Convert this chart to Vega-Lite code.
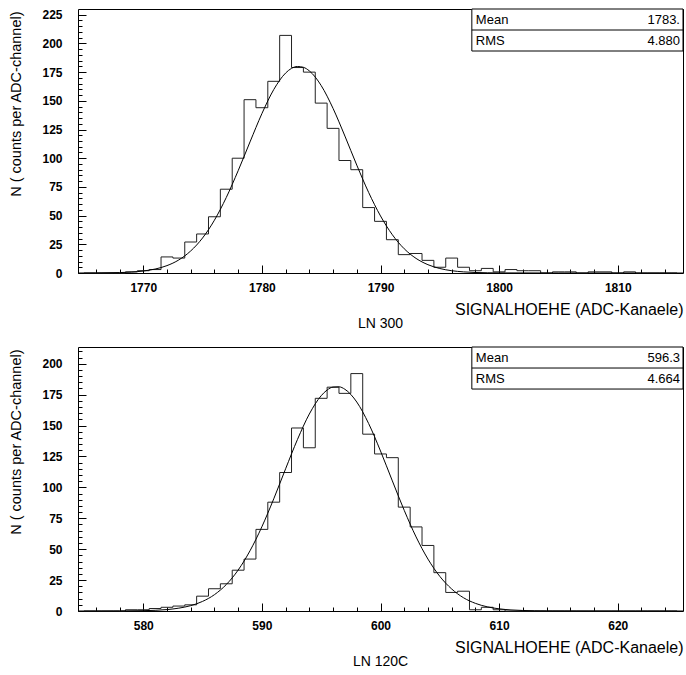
{
  "$schema": "https://vega.github.io/schema/vega-lite/v6.json",
  "background": "white",
  "padding": {"left": 8, "top": 8, "right": 2, "bottom": 0},
  "spacing": 12,
  "config": {
    "font": "Liberation Sans",
    "view": {"stroke": "black", "strokeWidth": 1},
    "axis": {
      "domain": false,
      "grid": false,
      "ticks": true,
      "tickColor": "black",
      "tickWidth": 1,
      "labelColor": "black",
      "titleColor": "black",
      "labelFont": "Liberation Sans",
      "titleFont": "Liberation Sans",
      "labelFontSize": 12,
      "labelFontWeight": "bold",
      "titleFontWeight": "normal",
      "labelOverlap": false,
      "labelFlush": false,
      "labelBound": false
    },
    "axisX": {"titleFontSize": 16, "titlePadding": 4, "labelPadding": 17},
    "axisY": {"titleFontSize": 14.5, "titlePadding": 18, "labelPadding": 24, "titleY": 2},
    "text": {"font": "Liberation Sans", "color": "black"},
    "title": {"color": "black", "font": "Liberation Sans"}
  },
  "datasets": {
    "hist300": [
      {"adc": 1765, "n": 0}, {"adc": 1766, "n": 0}, {"adc": 1767, "n": 0}, {"adc": 1768, "n": 0},
      {"adc": 1769, "n": 1}, {"adc": 1770, "n": 2}, {"adc": 1771, "n": 3}, {"adc": 1772, "n": 14},
      {"adc": 1773, "n": 13}, {"adc": 1774, "n": 27}, {"adc": 1775, "n": 34}, {"adc": 1776, "n": 49},
      {"adc": 1777, "n": 73}, {"adc": 1778, "n": 100}, {"adc": 1779, "n": 151}, {"adc": 1780, "n": 144},
      {"adc": 1781, "n": 167}, {"adc": 1782, "n": 207}, {"adc": 1783, "n": 179}, {"adc": 1784, "n": 175},
      {"adc": 1785, "n": 148}, {"adc": 1786, "n": 126}, {"adc": 1787, "n": 98}, {"adc": 1788, "n": 90},
      {"adc": 1789, "n": 57}, {"adc": 1790, "n": 45}, {"adc": 1791, "n": 29}, {"adc": 1792, "n": 16},
      {"adc": 1793, "n": 17}, {"adc": 1794, "n": 11}, {"adc": 1795, "n": 5}, {"adc": 1796, "n": 13},
      {"adc": 1797, "n": 5}, {"adc": 1798, "n": 2}, {"adc": 1799, "n": 4}, {"adc": 1800, "n": 1},
      {"adc": 1801, "n": 3}, {"adc": 1802, "n": 2}, {"adc": 1803, "n": 2}, {"adc": 1804, "n": 0},
      {"adc": 1805, "n": 1}, {"adc": 1806, "n": 1}, {"adc": 1807, "n": 0}, {"adc": 1808, "n": 1},
      {"adc": 1809, "n": 1}, {"adc": 1810, "n": 0}, {"adc": 1811, "n": 1}, {"adc": 1812, "n": 0},
      {"adc": 1813, "n": 0}, {"adc": 1814, "n": 0}, {"adc": 1815, "n": 0}
    ],
    "fit300": [
      {"adc": 1764.5, "n": 0}, {"adc": 1766, "n": 0.07}, {"adc": 1768, "n": 0.38}, {"adc": 1770, "n": 1.74},
      {"adc": 1771, "n": 3.44}, {"adc": 1772, "n": 6.43}, {"adc": 1773, "n": 11.4}, {"adc": 1774, "n": 19.2},
      {"adc": 1775, "n": 30.5}, {"adc": 1776, "n": 46.0}, {"adc": 1777, "n": 65.8}, {"adc": 1778, "n": 89.1},
      {"adc": 1779, "n": 114.2}, {"adc": 1780, "n": 138.8}, {"adc": 1781, "n": 159.8}, {"adc": 1782, "n": 174.2},
      {"adc": 1782.5, "n": 178.3}, {"adc": 1783, "n": 179.9}, {"adc": 1783.5, "n": 179.2}, {"adc": 1784, "n": 176.1},
      {"adc": 1785, "n": 163.3}, {"adc": 1786, "n": 143.4}, {"adc": 1787, "n": 119.3}, {"adc": 1788, "n": 94.0},
      {"adc": 1789, "n": 70.2}, {"adc": 1790, "n": 49.7}, {"adc": 1791, "n": 33.3}, {"adc": 1792, "n": 21.1},
      {"adc": 1793, "n": 12.7}, {"adc": 1794, "n": 7.24}, {"adc": 1795, "n": 3.91}, {"adc": 1796, "n": 2.0},
      {"adc": 1797, "n": 0.97}, {"adc": 1798, "n": 0.44}, {"adc": 1800, "n": 0.08}, {"adc": 1805, "n": 0},
      {"adc": 1815.5, "n": 0}
    ],
    "stats300": [
      {"stat": "Mean", "value": "1783."},
      {"stat": "RMS", "value": "4.880"}
    ],
    "hist120": [
      {"adc": 575, "n": 0}, {"adc": 576, "n": 0}, {"adc": 577, "n": 0}, {"adc": 578, "n": 0},
      {"adc": 579, "n": 1}, {"adc": 580, "n": 1}, {"adc": 581, "n": 2}, {"adc": 582, "n": 3},
      {"adc": 583, "n": 4}, {"adc": 584, "n": 5}, {"adc": 585, "n": 12}, {"adc": 586, "n": 18},
      {"adc": 587, "n": 22}, {"adc": 588, "n": 33}, {"adc": 589, "n": 42}, {"adc": 590, "n": 66},
      {"adc": 591, "n": 88}, {"adc": 592, "n": 112}, {"adc": 593, "n": 148}, {"adc": 594, "n": 132},
      {"adc": 595, "n": 172}, {"adc": 596, "n": 181}, {"adc": 597, "n": 176}, {"adc": 598, "n": 192},
      {"adc": 599, "n": 143}, {"adc": 600, "n": 127}, {"adc": 601, "n": 124}, {"adc": 602, "n": 84},
      {"adc": 603, "n": 68}, {"adc": 604, "n": 53}, {"adc": 605, "n": 31}, {"adc": 606, "n": 15},
      {"adc": 607, "n": 16}, {"adc": 608, "n": 1}, {"adc": 609, "n": 3}, {"adc": 610, "n": 1},
      {"adc": 611, "n": 0}, {"adc": 612, "n": 0}, {"adc": 613, "n": 0}, {"adc": 614, "n": 0},
      {"adc": 615, "n": 0}, {"adc": 616, "n": 0}, {"adc": 617, "n": 0}, {"adc": 618, "n": 0},
      {"adc": 619, "n": 0}, {"adc": 620, "n": 0}, {"adc": 621, "n": 0}, {"adc": 622, "n": 0},
      {"adc": 623, "n": 0}, {"adc": 624, "n": 0}, {"adc": 625, "n": 0}
    ],
    "fit120": [
      {"adc": 574.5, "n": 0}, {"adc": 576, "n": 0.01}, {"adc": 578, "n": 0.05}, {"adc": 580, "n": 0.26},
      {"adc": 581, "n": 0.56}, {"adc": 582, "n": 1.16}, {"adc": 583, "n": 2.3}, {"adc": 584, "n": 4.33},
      {"adc": 585, "n": 7.76}, {"adc": 586, "n": 13.2}, {"adc": 587, "n": 21.4}, {"adc": 588, "n": 33.1},
      {"adc": 589, "n": 48.7}, {"adc": 590, "n": 68.1}, {"adc": 591, "n": 90.7}, {"adc": 592, "n": 115.0},
      {"adc": 593, "n": 138.7}, {"adc": 594, "n": 159.3}, {"adc": 595, "n": 174.1}, {"adc": 595.5, "n": 178.7},
      {"adc": 596, "n": 181.1}, {"adc": 596.5, "n": 181.3}, {"adc": 597, "n": 179.3}, {"adc": 598, "n": 169.0},
      {"adc": 599, "n": 151.6}, {"adc": 600, "n": 129.4}, {"adc": 601, "n": 105.2}, {"adc": 602, "n": 81.4},
      {"adc": 603, "n": 59.9}, {"adc": 604, "n": 42.0}, {"adc": 605, "n": 28.0}, {"adc": 606, "n": 17.8},
      {"adc": 607, "n": 10.7}, {"adc": 608, "n": 6.18}, {"adc": 609, "n": 3.38}, {"adc": 610, "n": 1.76},
      {"adc": 611, "n": 0.87}, {"adc": 612, "n": 0.41}, {"adc": 614, "n": 0.08}, {"adc": 618, "n": 0},
      {"adc": 625.5, "n": 0}
    ],
    "stats120": [
      {"stat": "Mean", "value": "596.3"},
      {"stat": "RMS", "value": "4.664"}
    ]
  },
  "vconcat": [
    {
      "width": 605,
      "height": 264,
      "title": {"text": "LN 300", "orient": "bottom", "anchor": "middle", "frame": "group", "fontSize": 14, "fontWeight": "normal", "offset": 0},
      "layer": [
        {
          "encoding": {
            "x": {
              "field": "adc", "type": "quantitative",
              "scale": {"domain": [1764.5, 1815.5], "nice": false, "zero": false},
              "axis": {
                "title": "SIGNALHOEHE (ADC-Kanaele)", "titleAnchor": "end",
                "values": [1766, 1768, 1770, 1772, 1774, 1776, 1778, 1780, 1782, 1784, 1786, 1788, 1790, 1792, 1794, 1796, 1798, 1800, 1802, 1804, 1806, 1808, 1810, 1812, 1814],
                "format": "d", "labelOverlap": false,
                "labelExpr": "datum.value % 10 === 0 ? datum.label : ''",
                "tickSize": {"condition": {"test": "datum.value % 10 === 0", "value": -8}, "value": -4}
              }
            },
            "y": {
              "field": "n", "type": "quantitative",
              "scale": {"domain": [0, 230], "nice": false},
              "axis": {
                "title": "N ( counts per ADC-channel)", "titleAnchor": "end",
                "values": [0, 5, 10, 15, 20, 25, 30, 35, 40, 45, 50, 55, 60, 65, 70, 75, 80, 85, 90, 95, 100, 105, 110, 115, 120, 125, 130, 135, 140, 145, 150, 155, 160, 165, 170, 175, 180, 185, 190, 195, 200, 205, 210, 215, 220, 225],
                "format": "d", "labelOverlap": false,
                "labelExpr": "datum.value % 25 === 0 ? datum.label : ''",
                "tickSize": {"condition": {"test": "datum.value % 25 === 0", "value": -8}, "value": -4}
              }
            }
          },
          "layer": [
            {"data": {"name": "hist300"}, "mark": {"type": "line", "interpolate": "step", "color": "#222", "strokeWidth": 1}},
            {"data": {"name": "fit300"}, "mark": {"type": "line", "interpolate": "monotone", "color": "black", "strokeWidth": 1}}
          ]
        },
        {
          "data": {"name": "stats300"},
          "transform": [{"filter": "datum.stat === 'Mean'"}],
          "encoding": {
            "x": {
              "datum": 1797.7, "type": "quantitative",
              "scale": {"domain": [1764.5, 1815.5], "nice": false, "zero": false},
              "axis": {
                "title": "SIGNALHOEHE (ADC-Kanaele)", "titleAnchor": "end",
                "values": [1766, 1768, 1770, 1772, 1774, 1776, 1778, 1780, 1782, 1784, 1786, 1788, 1790, 1792, 1794, 1796, 1798, 1800, 1802, 1804, 1806, 1808, 1810, 1812, 1814],
                "format": "d", "labelOverlap": false,
                "labelExpr": "datum.value % 10 === 0 ? datum.label : ''",
                "tickSize": {"condition": {"test": "datum.value % 10 === 0", "value": -8}, "value": -4}
              }
            },
            "y": {
              "datum": 193.4, "type": "quantitative",
              "scale": {"domain": [0, 230], "nice": false},
              "axis": {
                "title": "N ( counts per ADC-channel)", "titleAnchor": "end",
                "values": [0, 5, 10, 15, 20, 25, 30, 35, 40, 45, 50, 55, 60, 65, 70, 75, 80, 85, 90, 95, 100, 105, 110, 115, 120, 125, 130, 135, 140, 145, 150, 155, 160, 165, 170, 175, 180, 185, 190, 195, 200, 205, 210, 215, 220, 225],
                "format": "d", "labelOverlap": false,
                "labelExpr": "datum.value % 25 === 0 ? datum.label : ''",
                "tickSize": {"condition": {"test": "datum.value % 25 === 0", "value": -8}, "value": -4}
              }
            }
          },
          "layer": [
            {"mark": {"type": "rect", "fill": "white", "stroke": "black", "strokeWidth": 1},
             "encoding": {"x2": {"datum": 1815.5}, "y2": {"datum": 230}}},
            {"mark": {"type": "rule", "color": "black", "strokeWidth": 1},
             "encoding": {"x2": {"datum": 1815.5}, "y": {"datum": 211.7, "type": "quantitative"}}},
            {"mark": {"type": "text", "align": "left", "baseline": "middle", "dx": 4, "fontSize": 13},
             "encoding": {"y": {"datum": 220.85, "type": "quantitative"}, "text": {"field": "stat"}}},
            {"mark": {"type": "text", "align": "right", "baseline": "middle", "dx": -3, "fontSize": 13},
             "encoding": {"x": {"datum": 1815.5, "type": "quantitative"}, "y": {"datum": 220.85, "type": "quantitative"}, "text": {"field": "value"}}}
          ]
        },
        {
          "data": {"name": "stats300"},
          "transform": [{"filter": "datum.stat === 'RMS'"}],
          "encoding": {
            "x": {
              "datum": 1797.7, "type": "quantitative",
              "scale": {"domain": [1764.5, 1815.5], "nice": false, "zero": false},
              "axis": {
                "title": "SIGNALHOEHE (ADC-Kanaele)", "titleAnchor": "end",
                "values": [1766, 1768, 1770, 1772, 1774, 1776, 1778, 1780, 1782, 1784, 1786, 1788, 1790, 1792, 1794, 1796, 1798, 1800, 1802, 1804, 1806, 1808, 1810, 1812, 1814],
                "format": "d", "labelOverlap": false,
                "labelExpr": "datum.value % 10 === 0 ? datum.label : ''",
                "tickSize": {"condition": {"test": "datum.value % 10 === 0", "value": -8}, "value": -4}
              }
            },
            "y": {
              "datum": 202.55, "type": "quantitative",
              "scale": {"domain": [0, 230], "nice": false},
              "axis": {
                "title": "N ( counts per ADC-channel)", "titleAnchor": "end",
                "values": [0, 5, 10, 15, 20, 25, 30, 35, 40, 45, 50, 55, 60, 65, 70, 75, 80, 85, 90, 95, 100, 105, 110, 115, 120, 125, 130, 135, 140, 145, 150, 155, 160, 165, 170, 175, 180, 185, 190, 195, 200, 205, 210, 215, 220, 225],
                "format": "d", "labelOverlap": false,
                "labelExpr": "datum.value % 25 === 0 ? datum.label : ''",
                "tickSize": {"condition": {"test": "datum.value % 25 === 0", "value": -8}, "value": -4}
              }
            }
          },
          "layer": [
            {"mark": {"type": "text", "align": "left", "baseline": "middle", "dx": 4, "fontSize": 13},
             "encoding": {"text": {"field": "stat"}}},
            {"mark": {"type": "text", "align": "right", "baseline": "middle", "dx": -3, "fontSize": 13},
             "encoding": {"x": {"datum": 1815.5, "type": "quantitative"}, "text": {"field": "value"}}}
          ]
        }
      ]
    },
    {
      "width": 605,
      "height": 264,
      "title": {"text": "LN 120C", "orient": "bottom", "anchor": "middle", "frame": "group", "fontSize": 14, "fontWeight": "normal", "offset": 0},
      "layer": [
        {
          "encoding": {
            "x": {
              "field": "adc", "type": "quantitative",
              "scale": {"domain": [574.5, 625.5], "nice": false, "zero": false},
              "axis": {
                "title": "SIGNALHOEHE (ADC-Kanaele)", "titleAnchor": "end",
                "values": [576, 578, 580, 582, 584, 586, 588, 590, 592, 594, 596, 598, 600, 602, 604, 606, 608, 610, 612, 614, 616, 618, 620, 622, 624],
                "format": "d", "labelOverlap": false,
                "labelExpr": "datum.value % 10 === 0 ? datum.label : ''",
                "tickSize": {"condition": {"test": "datum.value % 10 === 0", "value": -8}, "value": -4}
              }
            },
            "y": {
              "field": "n", "type": "quantitative",
              "scale": {"domain": [0, 213.5], "nice": false},
              "axis": {
                "title": "N ( counts per ADC-channel)", "titleAnchor": "end",
                "values": [0, 5, 10, 15, 20, 25, 30, 35, 40, 45, 50, 55, 60, 65, 70, 75, 80, 85, 90, 95, 100, 105, 110, 115, 120, 125, 130, 135, 140, 145, 150, 155, 160, 165, 170, 175, 180, 185, 190, 195, 200, 205, 210],
                "format": "d", "labelOverlap": false,
                "labelExpr": "datum.value % 25 === 0 ? datum.label : ''",
                "tickSize": {"condition": {"test": "datum.value % 25 === 0", "value": -8}, "value": -4}
              }
            }
          },
          "layer": [
            {"data": {"name": "hist120"}, "mark": {"type": "line", "interpolate": "step", "color": "#222", "strokeWidth": 1}},
            {"data": {"name": "fit120"}, "mark": {"type": "line", "interpolate": "monotone", "color": "black", "strokeWidth": 1}}
          ]
        },
        {
          "data": {"name": "stats120"},
          "transform": [{"filter": "datum.stat === 'Mean'"}],
          "encoding": {
            "x": {
              "datum": 607.7, "type": "quantitative",
              "scale": {"domain": [574.5, 625.5], "nice": false, "zero": false},
              "axis": {
                "title": "SIGNALHOEHE (ADC-Kanaele)", "titleAnchor": "end",
                "values": [576, 578, 580, 582, 584, 586, 588, 590, 592, 594, 596, 598, 600, 602, 604, 606, 608, 610, 612, 614, 616, 618, 620, 622, 624],
                "format": "d", "labelOverlap": false,
                "labelExpr": "datum.value % 10 === 0 ? datum.label : ''",
                "tickSize": {"condition": {"test": "datum.value % 10 === 0", "value": -8}, "value": -4}
              }
            },
            "y": {
              "datum": 179.5, "type": "quantitative",
              "scale": {"domain": [0, 213.5], "nice": false},
              "axis": {
                "title": "N ( counts per ADC-channel)", "titleAnchor": "end",
                "values": [0, 5, 10, 15, 20, 25, 30, 35, 40, 45, 50, 55, 60, 65, 70, 75, 80, 85, 90, 95, 100, 105, 110, 115, 120, 125, 130, 135, 140, 145, 150, 155, 160, 165, 170, 175, 180, 185, 190, 195, 200, 205, 210],
                "format": "d", "labelOverlap": false,
                "labelExpr": "datum.value % 25 === 0 ? datum.label : ''",
                "tickSize": {"condition": {"test": "datum.value % 25 === 0", "value": -8}, "value": -4}
              }
            }
          },
          "layer": [
            {"mark": {"type": "rect", "fill": "white", "stroke": "black", "strokeWidth": 1},
             "encoding": {"x2": {"datum": 625.5}, "y2": {"datum": 213.5}}},
            {"mark": {"type": "rule", "color": "black", "strokeWidth": 1},
             "encoding": {"x2": {"datum": 625.5}, "y": {"datum": 196.5, "type": "quantitative"}}},
            {"mark": {"type": "text", "align": "left", "baseline": "middle", "dx": 4, "fontSize": 13},
             "encoding": {"y": {"datum": 205, "type": "quantitative"}, "text": {"field": "stat"}}},
            {"mark": {"type": "text", "align": "right", "baseline": "middle", "dx": -3, "fontSize": 13},
             "encoding": {"x": {"datum": 625.5, "type": "quantitative"}, "y": {"datum": 205, "type": "quantitative"}, "text": {"field": "value"}}}
          ]
        },
        {
          "data": {"name": "stats120"},
          "transform": [{"filter": "datum.stat === 'RMS'"}],
          "encoding": {
            "x": {
              "datum": 607.7, "type": "quantitative",
              "scale": {"domain": [574.5, 625.5], "nice": false, "zero": false},
              "axis": {
                "title": "SIGNALHOEHE (ADC-Kanaele)", "titleAnchor": "end",
                "values": [576, 578, 580, 582, 584, 586, 588, 590, 592, 594, 596, 598, 600, 602, 604, 606, 608, 610, 612, 614, 616, 618, 620, 622, 624],
                "format": "d", "labelOverlap": false,
                "labelExpr": "datum.value % 10 === 0 ? datum.label : ''",
                "tickSize": {"condition": {"test": "datum.value % 10 === 0", "value": -8}, "value": -4}
              }
            },
            "y": {
              "datum": 188, "type": "quantitative",
              "scale": {"domain": [0, 213.5], "nice": false},
              "axis": {
                "title": "N ( counts per ADC-channel)", "titleAnchor": "end",
                "values": [0, 5, 10, 15, 20, 25, 30, 35, 40, 45, 50, 55, 60, 65, 70, 75, 80, 85, 90, 95, 100, 105, 110, 115, 120, 125, 130, 135, 140, 145, 150, 155, 160, 165, 170, 175, 180, 185, 190, 195, 200, 205, 210],
                "format": "d", "labelOverlap": false,
                "labelExpr": "datum.value % 25 === 0 ? datum.label : ''",
                "tickSize": {"condition": {"test": "datum.value % 25 === 0", "value": -8}, "value": -4}
              }
            }
          },
          "layer": [
            {"mark": {"type": "text", "align": "left", "baseline": "middle", "dx": 4, "fontSize": 13},
             "encoding": {"text": {"field": "stat"}}},
            {"mark": {"type": "text", "align": "right", "baseline": "middle", "dx": -3, "fontSize": 13},
             "encoding": {"x": {"datum": 625.5, "type": "quantitative"}, "text": {"field": "value"}}}
          ]
        }
      ]
    }
  ]
}
